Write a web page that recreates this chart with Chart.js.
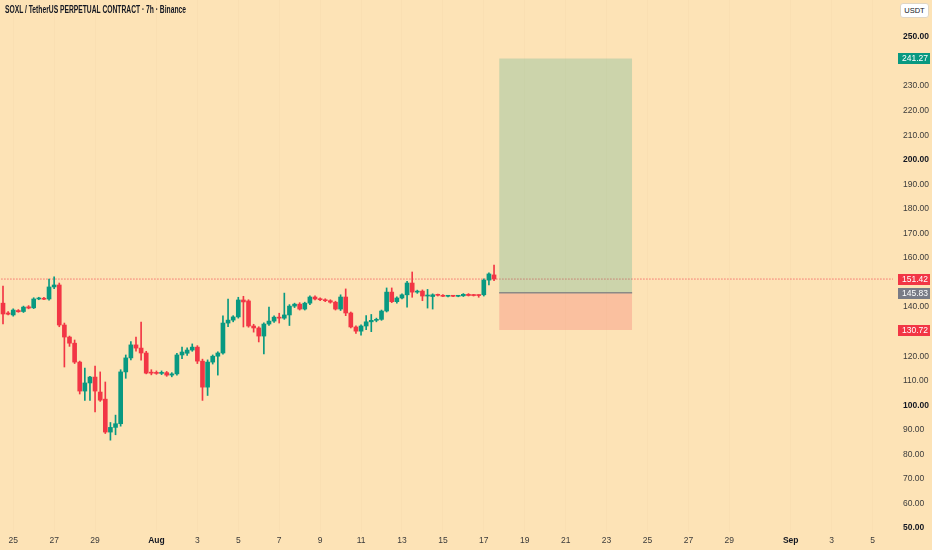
<!DOCTYPE html>
<html>
<head>
<meta charset="utf-8">
<title>SOXL / TetherUS PERPETUAL CONTRACT · 7h · Binance</title>
<script src="https://cdn.jsdelivr.net/npm/chart.js@4.4.1/dist/chart.umd.min.js"></script>
<style>
    html, body { margin: 0; padding: 0; background: #fde3b6; }
    #wrap { position: relative; width: 932px; height: 550px; overflow: hidden; }
    #chart { position: absolute; left: 0; top: 0; }
    #title {
        position: absolute; left: 5px; top: 4px;
        font: bold 10px "Liberation Sans Narrow", "Liberation Sans", Arial, sans-serif;
        color: #131722; white-space: nowrap; transform-origin: 0 0;
    }
    #unit {
        position: absolute; left: 900px; top: 3px; width: 29px; height: 15px;
        background: #ffffff; border: 1px solid #e0d6c4; border-radius: 3px; box-sizing: border-box;
        font: 7.5px "Liberation Sans", Arial, sans-serif; color: #131722;
        text-align: center; line-height: 13px;
    }
</style>
</head>
<body>
<div id="wrap">
    <canvas id="chart" width="932" height="550"></canvas>
    <div id="title">SOXL / TetherUS PERPETUAL CONTRACT · 7h · Binance</div>
    <div id="unit">USDT</div>
</div>
<script>
// Candles (7h bars)
const opens = [
    141.6, 137.6, 136.8, 138.6, 138.2, 140.1, 139.7, 143.3, 143.6, 143.3,
    148.2, 149.0, 132.7, 127.8, 125.3, 117.6, 105.8, 109.1, 111.5, 105.4,
    102.5, 89.1, 91.0, 92.5, 113.6, 119.3, 124.6, 123.3, 121.3, 113.5,
    113.3, 113.0, 113.3, 112.3, 112.8, 120.5, 121.2, 122.5, 123.7, 118.0,
    107.4, 117.6, 120.0, 121.3, 133.5, 134.7, 136.0, 142.9, 142.5, 132.3,
    131.5, 128.2, 133.1, 134.3, 135.9, 135.5, 136.8, 140.4, 141.2, 139.2,
    141.6, 144.1, 143.3, 143.0, 142.6, 142.0, 139.2, 144.1, 137.6, 131.9,
    130.2, 132.3, 134.0, 134.6, 135.0, 138.4, 146.1, 142.2, 143.7, 145.0,
    149.8, 146.1, 146.5, 144.5, 144.3, 145.0, 144.8, 144.4, 144.6, 144.4,
    144.6, 145.2, 145.0, 144.8, 145.0, 151.0, 153.1
];
const highs = [
    148.6, 138.2, 139.3, 139.0, 140.4, 140.6, 143.8, 144.0, 144.0, 151.4,
    152.3, 149.8, 133.5, 128.2, 126.6, 118.0, 115.2, 111.8, 116.0, 113.6,
    109.5, 93.0, 96.0, 114.5, 120.5, 126.0, 127.8, 133.9, 122.0, 114.5,
    114.0, 114.0, 113.8, 113.3, 121.2, 123.7, 123.4, 125.0, 124.3, 118.8,
    118.5, 120.5, 121.8, 136.4, 143.3, 136.5, 144.0, 144.4, 143.0, 133.0,
    132.0, 133.6, 140.0, 136.4, 137.5, 145.7, 141.0, 141.6, 141.8, 142.0,
    144.6, 144.6, 143.8, 143.4, 143.0, 142.4, 145.0, 147.4, 138.0, 132.4,
    132.8, 136.5, 137.0, 135.5, 138.8, 147.8, 147.8, 144.2, 145.4, 150.5,
    154.3, 146.9, 147.0, 147.2, 145.4, 145.3, 145.1, 144.8, 144.8, 144.8,
    145.5, 145.5, 145.2, 145.0, 151.5, 154.0, 157.1
];
const lows = [
    133.1, 136.8, 136.3, 137.9, 137.8, 139.3, 139.4, 143.0, 143.0, 142.8,
    147.5, 132.0, 115.6, 124.0, 117.0, 104.6, 102.0, 102.0, 97.3, 101.6,
    88.5, 85.8, 88.0, 91.5, 111.0, 118.5, 122.0, 118.4, 112.8, 112.4,
    112.6, 112.5, 111.8, 111.6, 112.3, 119.0, 120.3, 122.0, 117.0, 102.0,
    104.0, 116.8, 112.3, 120.8, 132.0, 134.0, 135.5, 131.9, 131.8, 129.8,
    125.8, 120.9, 132.5, 133.8, 133.5, 135.0, 132.5, 139.8, 138.8, 138.8,
    141.0, 142.9, 142.6, 142.2, 141.6, 138.8, 138.6, 136.5, 131.5, 129.3,
    128.6, 130.8, 130.0, 134.0, 134.6, 138.0, 141.8, 141.6, 143.3, 140.0,
    144.0, 145.6, 142.6, 139.6, 139.2, 144.5, 144.2, 144.1, 144.2, 144.2,
    144.3, 144.5, 144.5, 144.0, 144.5, 149.0, 150.8
];
const closes = [
    137.2, 137.1, 138.8, 138.1, 140.0, 139.6, 143.3, 143.6, 143.2, 148.2,
    149.0, 132.7, 127.8, 125.3, 117.6, 105.8, 109.1, 111.5, 105.8, 102.1,
    89.1, 91.0, 92.5, 113.6, 119.3, 124.6, 123.3, 121.3, 113.1, 113.1,
    113.0, 113.3, 112.3, 112.8, 120.5, 121.7, 122.5, 123.7, 118.0, 107.4,
    117.6, 120.0, 121.3, 133.5, 134.7, 136.0, 142.9, 142.1, 132.3, 131.5,
    128.2, 133.1, 134.3, 135.9, 135.5, 136.8, 140.4, 141.2, 139.2, 141.6,
    144.1, 143.3, 143.0, 142.6, 142.0, 139.2, 144.1, 137.6, 131.9, 130.2,
    132.3, 134.0, 134.6, 135.0, 138.4, 146.1, 142.2, 143.7, 145.0, 149.8,
    146.1, 146.5, 144.5, 144.7, 145.0, 144.8, 144.4, 144.5, 144.4, 144.6,
    145.2, 144.7, 144.7, 144.7, 151.0, 153.5, 151.42
];

// Time axis: bar index of each date label
const timeTickBars = [2, 10, 18, 30, 38, 46, 54, 62, 70, 78, 86, 94, 102, 110, 118, 126, 134, 142, 154, 162, 170];
const timeTickLabels = ['25', '27', '29', 'Aug', '3', '5', '7', '9', '11', '13', '15', '17', '19', '21', '23', '25', '27', '29', 'Sep', '3', '5'];
const monthLabels = ['Aug', 'Sep'];

const priceTicks = [50, 60, 70, 80, 90, 100, 110, 120, 130, 140, 150, 160, 170, 180, 190, 200, 210, 220, 230, 240, 250];

// Long position tool: [target, entry, stop] and its bar span
const positionLevels = [241.27, 145.83, 130.72];
const positionBars = [97, 123];
const lastPrice = 151.42;

const UP = '#089981';
const DOWN = '#f23645';
const TEXT = '#131722';
const SOFT_TEXT = '#3b3b3b';

const bodyData = opens.map((o, i) => ({ x: i, y: [o, closes[i]] }));
const wickData = opens.map((o, i) => ({ x: i, y: [lows[i], highs[i]] }));
const candleColor = ctx => closes[ctx.dataIndex] >= opens[ctx.dataIndex] ? UP : DOWN;

const levelLine = value => positionBars.map(x => ({ x: x, y: value }));

// Price badges on the right axis
const badges = [
    { value: positionLevels[0], color: UP },
    { value: lastPrice, color: DOWN },
    { value: positionLevels[1], color: '#787b86' },
    { value: positionLevels[2], color: DOWN }
];

const badgePlugin = {
    id: 'badges',
    afterDraw(chart) {
        const { ctx, chartArea, scales } = chart;
        ctx.save();
        ctx.font = '8.5px "Liberation Sans", Arial, sans-serif';
        ctx.textBaseline = 'middle';
        badges.forEach(b => {
            const py = Math.round(scales.y.getPixelForValue(b.value));
            ctx.fillStyle = b.color;
            ctx.fillRect(chartArea.right + 5, py - 5, 32, 11);
            ctx.fillStyle = '#ffffff';
            ctx.fillText(b.value.toFixed(2), chartArea.right + 9, py + 0.5);
        });
        ctx.restore();
    }
};

const noPadding = s => {
    s.paddingTop = 0; s.paddingBottom = 0; s.paddingLeft = 0; s.paddingRight = 0;
};

new Chart(document.getElementById('chart'), {
    type: 'bar',
    data: {
        datasets: [
            {
                label: 'body', data: bodyData, order: 0, grouped: false,
                barThickness: 4, minBarLength: 1,
                backgroundColor: candleColor, borderWidth: 0
            },
            {
                label: 'wick', data: wickData, order: 1, grouped: false,
                barThickness: 1, minBarLength: 1,
                backgroundColor: candleColor, borderWidth: 0
            },
            {
                type: 'line', label: 'entry', data: levelLine(positionLevels[1]), order: 2,
                borderColor: '#8a8a86', borderWidth: 1.5, pointRadius: 0, fill: false
            },
            {
                type: 'line', label: 'target', data: levelLine(positionLevels[0]), order: 3,
                borderWidth: 0, pointRadius: 0,
                fill: { value: positionLevels[1] }, backgroundColor: 'rgba(8, 153, 129, 0.2)'
            },
            {
                type: 'line', label: 'stop', data: levelLine(positionLevels[2]), order: 4,
                borderWidth: 0, pointRadius: 0,
                fill: { value: positionLevels[1] }, backgroundColor: 'rgba(242, 54, 69, 0.2)'
            },
            {
                type: 'line', label: 'last', data: [{ x: -5, y: lastPrice }, { x: 180, y: lastPrice }], order: 5,
                borderColor: DOWN, borderWidth: 1, borderDash: [1, 2], pointRadius: 0, fill: false
            }
        ]
    },
    options: {
        responsive: false,
        animation: false,
        layout: { padding: 0 },
        plugins: {
            legend: { display: false },
            tooltip: { enabled: false },
            title: { display: false }
        },
        scales: {
            x: {
                type: 'linear',
                min: -0.587,
                max: 174.0,
                offset: false,
                grid: { display: true, color: 'rgba(110, 80, 30, 0.022)', drawTicks: false, offset: false },
                border: { display: false },
                afterBuildTicks: s => { s.ticks = timeTickBars.map(v => ({ value: v })); },
                afterFit: s => { s.height = 18; noPadding(s); },
                ticks: {
                    autoSkip: false,
                    maxRotation: 0,
                    padding: 4,
                    color: ctx => monthLabels.includes(timeTickLabels[ctx.index]) ? TEXT : SOFT_TEXT,
                    font: ctx => ({
                        family: '"Liberation Sans", Arial, sans-serif',
                        size: 8.5,
                        weight: monthLabels.includes(timeTickLabels[ctx.index]) ? 'bold' : 'normal'
                    }),
                    callback: (value, index) => timeTickLabels[index]
                }
            },
            y: {
                type: 'linear',
                position: 'right',
                min: 48.4,
                max: 265.07,
                grid: { display: false, drawTicks: false },
                border: { display: false },
                afterBuildTicks: s => { s.ticks = priceTicks.map(v => ({ value: v })); },
                afterFit: s => { s.width = 39; noPadding(s); },
                ticks: {
                    padding: 10,
                    color: ctx => ctx.tick && ctx.tick.value % 50 === 0 ? TEXT : SOFT_TEXT,
                    font: ctx => ({
                        family: '"Liberation Sans", Arial, sans-serif',
                        size: 8.5,
                        weight: ctx.tick && ctx.tick.value % 50 === 0 ? 'bold' : 'normal'
                    }),
                    callback: v => v.toFixed(2)
                }
            }
        }
    },
    plugins: [badgePlugin]
});

// squeeze the title to the width it has in the reference
const title = document.getElementById('title');
const w = title.getBoundingClientRect().width;
if (w > 0) title.style.transform = 'scaleX(' + (181 / w) + ')';
</script>
</body>
</html>
